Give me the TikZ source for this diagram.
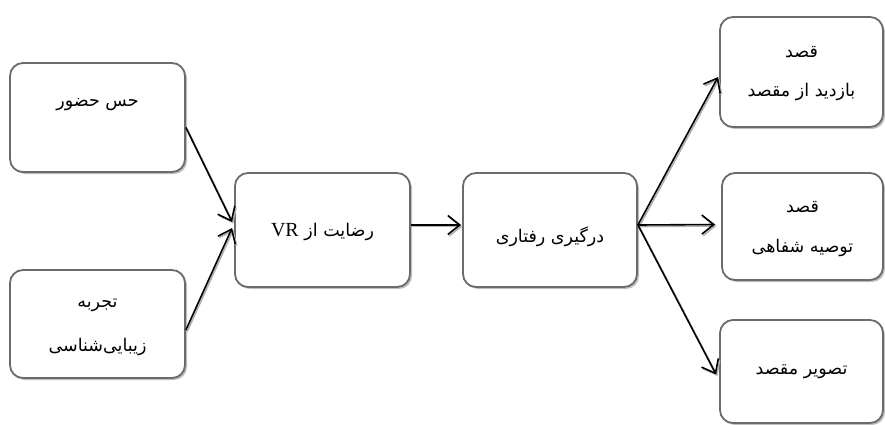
\documentclass[tikz,border=0pt]{standalone}
\usepackage{fontspec}
\setmainfont{Liberation Serif}
\newfontfamily\fa[Script=Arabic]{DejaVu Sans}
\TeXXeTstate=1
\usetikzlibrary{arrows.meta,shadows,calc}

\tikzset{
  box/.style={draw=black!58, line width=1.8pt, rounded corners=13pt, fill=white,
    drop shadow={shadow xshift=2pt, shadow yshift=-2pt, fill=black!25, opacity=1}},
  txt/.style={inner sep=0pt, font=\fa\fontsize{17.5}{21}\selectfont},
  tip/.style={-{Straight Barb[length=12pt,width=19pt,line width=1.6pt]}},
  arr/.style={line width=1.6pt, tip,
    preaction={draw=black!30, line width=1.6pt, tip,
      transform canvas={shift={(1.3pt,-1.5pt)}}}}
}

\begin{document}
\begin{tikzpicture}[x=1pt,y=-1pt]
\useasboundingbox (0,0) rectangle (885,424);

% boxes
\node[box, minimum width=175pt, minimum height=109pt] (A) at (97.5,117.5) {};
\node[box, minimum width=175pt, minimum height=108pt] (B) at (97.5,324) {};
\node[box, minimum width=175pt, minimum height=114pt] (C) at (322.5,230) {};
\node[box, minimum width=174pt, minimum height=114pt] (D) at (550,230) {};
\node[box, minimum width=163pt, minimum height=110pt] (E) at (801.5,72) {};
\node[box, minimum width=161pt, minimum height=107pt] (F) at (802.5,226.5) {};
\node[box, minimum width=163pt, minimum height=103pt] (G) at (801.5,371.5) {};

% labels
\node[txt] (At) at (97.5,105) {\beginR حس حضور\endR};
\node[txt] (Bt1) at (97.5,305) {\beginR تجربه\endR};
\node[txt] (Bt2) at (97.5,347) {\beginR زیبایی‌شناسی\endR};
\node[txt] (Ct) at (322.5,232) {\beginR رضایت از \beginL{\rmfamily\fontsize{20}{24}\selectfont VR}\endL\endR};
\node[txt] (Dt) at (550,237) {\beginR درگیری رفتاری\endR};
\node[txt] (Et1) at (801.5,52) {\beginR قصد\endR};
\node[txt] (Et2) at (801.5,92) {\beginR بازدید از مقصد\endR};
\node[txt] (Ft1) at (802.5,207) {\beginR قصد\endR};
\node[txt] (Ft2) at (802.5,248) {\beginR توصیه شفاهی\endR};
\node[txt] (Gt) at (801.5,372) {\beginR تصویر مقصد\endR};

% connectors
\draw[arr] ($(A.east)+(0,10)$) -- ($(C.west)+(-2,-8)$);
\draw[arr] ($(B.east)+(0,6)$) -- ($(C.west)+(-2,-2)$);
\draw[arr] ($(C.east)+(0,-5)$) -- ($(D.west)+(-1,-5)$);
\draw[arr] ($(D.east)+(0,-5)$) -- ($(E.west)+(-1,5)$);
\draw[arr] ($(D.east)+(0,-5)$) -- ($(F.west)+(-6,-2)$);
\draw[arr] ($(D.east)+(0,-5)$) -- ($(G.west)+(-3,3)$);
\end{tikzpicture}
\end{document}
